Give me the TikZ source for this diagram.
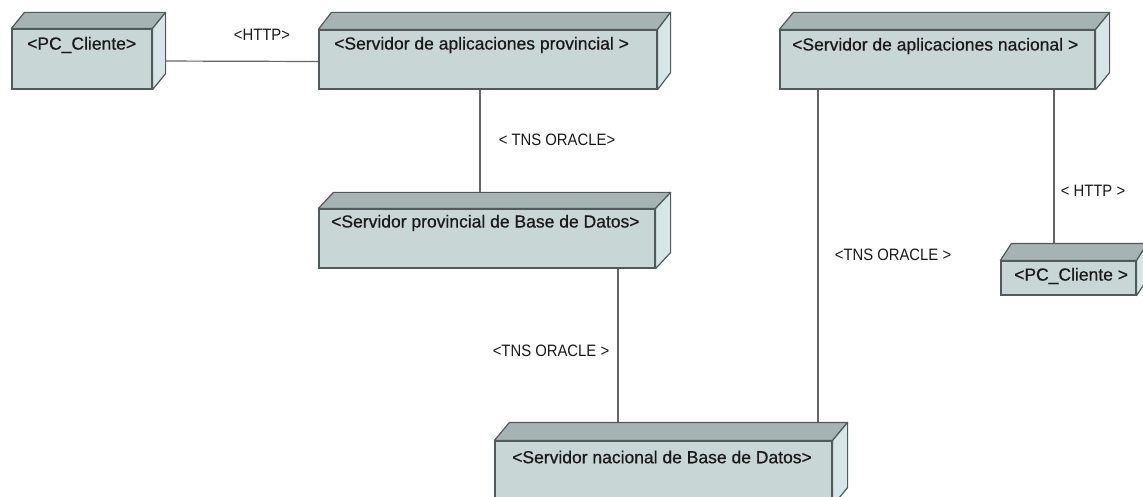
\documentclass[tikz,border=0pt]{standalone}
\usepackage{fontspec}
\setmainfont{Liberation Sans}
\newfontfamily\narrowfont[FakeStretch=0.9]{Liberation Sans}
\newfontfamily\nodefont[FakeBold=0.6]{Liberation Sans}
\usetikzlibrary{fit}
\pgfdeclarelayer{background}
\pgfsetlayers{background,main}
\definecolor{frontc}{RGB}{200,214,214}
\definecolor{topc}{RGB}{166,179,179}
\definecolor{sidec}{RGB}{214,229,229}
\definecolor{edgec}{RGB}{80,90,90}
\definecolor{linec}{RGB}{100,100,100}
\tikzset{
  front/.style={draw=edgec, fill=frontc, line width=1.2pt, inner sep=0pt},
  topface/.style={draw=edgec, fill=topc, line width=1.2pt, line join=round},
  sideface/.style={draw=edgec, fill=sidec, line width=1.2pt, line join=round},
  ntext/.style={anchor=west, inner sep=0pt, font=\nodefont\fontsize{17.5}{20}\selectfont, text=black!90},
  etext/.style={inner sep=0pt, font=\narrowfont\fontsize{16.5}{18}\selectfont, text=black!90},
  conn/.style={draw=linec, line width=1.2pt},
}
\newcommand\depnode[7]{%
  \node[front, fit={(#2,#3)(#4,#5)}] (#1) {};
  \filldraw[topface] (#1.north west) -- ++(#6,-#7) -- ([shift={(#6,-#7)}]#1.north east) -- (#1.north east) -- cycle;
  \filldraw[sideface] (#1.north east) -- ([shift={(#6,-#7)}]#1.north east) -- ([shift={(#6,-#7)}]#1.south east) -- (#1.south east) -- cycle;
}
\begin{document}
\begin{tikzpicture}[x=1pt,y=-1pt]
\useasboundingbox (0,0) rectangle (1143,497);
\depnode{pc1}{12}{29}{152}{89}{13}{16}
\depnode{sap}{319}{30}{657}{89}{13}{17}
\depnode{san}{780}{30}{1095}{89}{14}{17}
\depnode{sbd}{319}{209}{655}{268}{15}{16}
\depnode{pc2}{1001}{261}{1136}{295}{11}{17}
\depnode{snbd}{495}{441}{832}{505}{15}{18}

\node[ntext] (t1) at (27,45) {<PC\_Cliente>};
\node[ntext] (t2) at (334,45) {<Servidor de aplicaciones provincial >};
\node[ntext] (t3) at (792,46) {<Servidor de aplicaciones nacional >};
\node[ntext] (t4) at (331,223) {<Servidor provincial de Base de Datos>};
\node[ntext] (t5) at (1014,276) {<PC\_Cliente >};
\node[ntext] (t6) at (512,457) {<Servidor nacional de Base de Datos>};

\node[etext] (l1) at (262,35) {<HTTP>};
\node[etext] (l2) at (557,140) {< TNS ORACLE>};
\node[etext] (l3) at (1093,191) {< HTTP >};
\node[etext] (l4) at (893,255) {<TNS ORACLE >};
\node[etext] (l5) at (551,351) {<TNS ORACLE >};

\begin{pgfonlayer}{background}
\draw[conn] ([yshift=-2pt]pc1.east) -- ([yshift=-2pt]sap.west);
\draw[conn] (sap.south -| 480,0) -- (sbd.north -| 480,0);
\draw[conn] (sbd.south -| 618,0) -- (snbd.north -| 618,0);
\draw[conn] (san.south -| 818,0) -- (snbd.north -| 818,0);
\draw[conn] (san.south -| 1054,0) -- (pc2.north -| 1054,0);
\end{pgfonlayer}
\end{tikzpicture}
\end{document}
